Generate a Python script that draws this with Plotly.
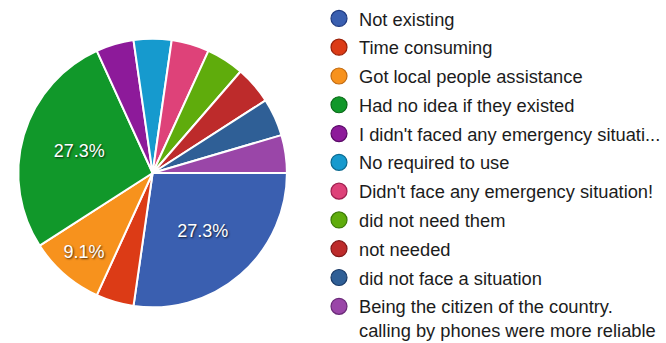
import plotly.graph_objects as go

labels = [
    "Not existing",
    "Time consuming",
    "Got local people assistance",
    "Had no idea if they existed",
    "I didn't faced any emergency situati...",
    "No required to use",
    "Didn't face any emergency situation!",
    "did not need them",
    "not needed",
    "did not face a situation",
    "Being the citizen of the country.<br>calling by phones were more reliable",
]
counts = [6, 1, 2, 6, 1, 1, 1, 1, 1, 1, 1]
colors = ["#3a5fb0", "#dc3b16", "#f7921d", "#11982a", "#8d1a9a", "#169ace",
          "#de4279", "#5fac0c", "#bd2b2b", "#2f5f96", "#9a46a8"]
outline = ["#1f3a80", "#9a2008", "#c06a10", "#0a6a18", "#5a0a68", "#0a6a90",
           "#a02050", "#3a7a05", "#801818", "#1a3a66", "#6a2a78"]

total = sum(counts)
templates = ["%{percent:.1%}" if c / total > 0.05 else "" for c in counts]

fig = go.Figure()
fig.add_trace(go.Pie(
    labels=labels,
    values=counts,
    sort=False,
    direction="clockwise",
    rotation=90,
    marker=dict(colors=colors, line=dict(color="white", width=2)),
    texttemplate=templates,
    textposition="inside",
    insidetextorientation="horizontal",
    textfont=dict(family="Liberation Sans, Arial", size=18, color="white",
                  shadow="1px 1px 2px rgba(0,0,0,0.7)"),
    showlegend=False,
    hoverinfo="label+percent",
    domain=dict(x=[0.027, 0.432], y=[0.105, 0.895]),
))

for i, (lab, col, oc) in enumerate(zip(labels, colors, outline)):
    fig.add_trace(go.Scatter(
        x=[None], y=[None], mode="markers", name=lab,
        legendgroup=f"g{i}",
        marker=dict(symbol="circle", size=16, color=col, line=dict(color=oc, width=1.2)),
        showlegend=True,
    ))

fig.update_layout(
    width=666, height=343,
    margin=dict(l=0, r=0, t=0, b=0),
    paper_bgcolor="white",
    plot_bgcolor="white",
    xaxis=dict(visible=False, domain=[0.99, 1]),
    yaxis=dict(visible=False, domain=[0.99, 1]),
    legend=dict(
        x=0.480, xanchor="left", y=1.008, yanchor="top",
        font=dict(family="Liberation Sans, Arial", size=18.3, color="#1c1c1c"),
        tracegroupgap=2,
        valign="top",
        maxheight=420,
        bgcolor="rgba(0,0,0,0)",
        itemclick=False,
    ),
    showlegend=True,
)

fig.write_html("out.html")
